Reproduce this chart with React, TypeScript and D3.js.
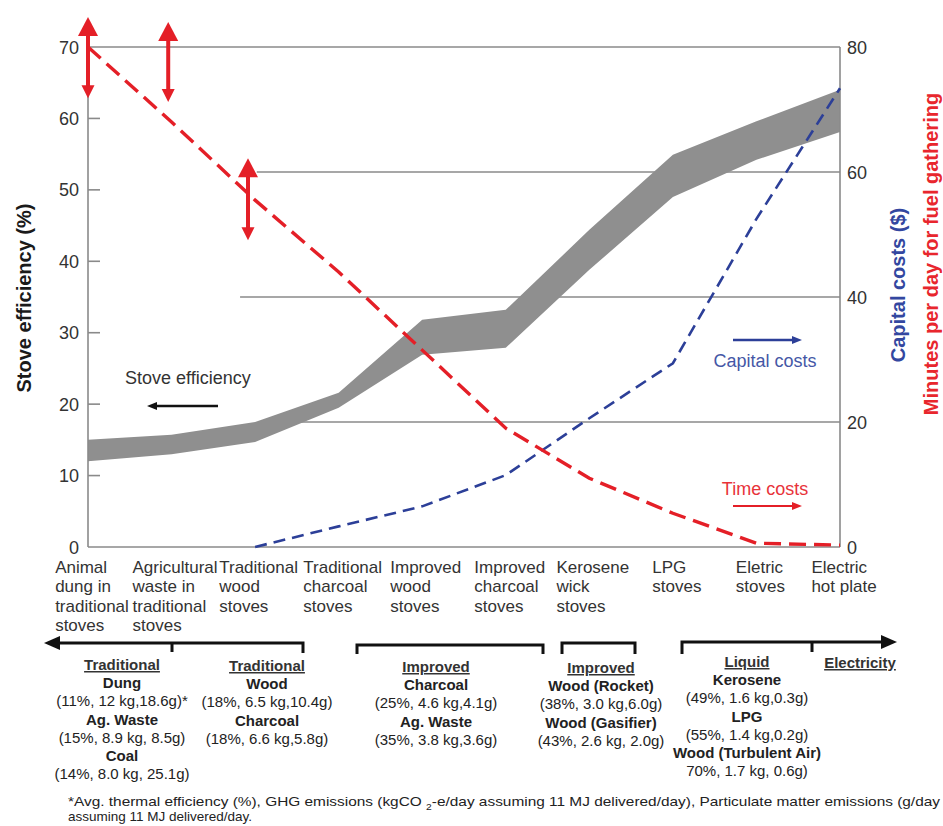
import React, { useEffect, useRef } from "react";
import * as d3 from "d3";

// ---------- data ----------
const categories = [
  "Animal dung in traditional stoves",
  "Agricultural waste in traditional stoves",
  "Traditional wood stoves",
  "Traditional charcoal stoves",
  "Improved wood stoves",
  "Improved charcoal stoves",
  "Kerosene wick stoves",
  "LPG stoves",
  "Eletric stoves",
  "Electric hot plate",
];
const categoryLines = [
  ["Animal", "dung in", "traditional", "stoves"],
  ["Agricultural", "waste in", "traditional", "stoves"],
  ["Traditional", "wood", "stoves"],
  ["Traditional", "charcoal", "stoves"],
  ["Improved", "wood", "stoves"],
  ["Improved", "charcoal", "stoves"],
  ["Kerosene", "wick", "stoves"],
  ["LPG", "stoves"],
  ["Eletric", "stoves"],
  ["Electric", "hot plate"],
];
// stove efficiency band (%), left axis
const efficiencyLow = [12, 13, 14.7, 19.5, 26.9, 27.9, 38.8, 49, 54.2, 58.1];
const efficiencyHigh = [15, 15.7, 17.5, 21.6, 31.8, 33.2, 44.4, 54.9, 59.6, 64];
// capital costs ($), right axis
const capitalCosts: (number | null)[] = [null, null, 0, 3.3, 6.5, 11.5, 20.6, 29.4, 52.5, 73.4];
// minutes per day for fuel gathering, right axis
const timeCosts = [80, 68, 55.5, 44, 31.5, 19, 11, 5.4, 0.6, 0.3];
const leftTicks = [0, 10, 20, 30, 40, 50, 60, 70];
const rightTicks = [0, 20, 40, 60, 80];
// red range arrows on time costs (category index, right-axis values)
const rangeArrowAt = [0, 0.96, 1.915];
const rangeArrowLow = [71.8, 71.2, 49.1];
const rangeArrowHigh = [84.8, 84, 62.2];
// partial right-axis gridlines (value, starting category index)
const gridValues = [20, 40, 60];
const gridStartAt = [2.51, 1.82, 2.02];

const groupHeaders = ["Traditional", "Traditional", "Improved", "Improved", "Liquid", "Electricity"];
const groupFuels = [
  ["Dung", "Ag. Waste", "Coal"],
  ["Wood", "Charcoal"],
  ["Charcoal", "Ag. Waste"],
  ["Wood (Rocket)", "Wood (Gasifier)"],
  ["Kerosene", "LPG", "Wood (Turbulent Air)"],
  [],
];
const groupStats = [
  ["(11%, 12 kg,18.6g)*", "(15%, 8.9 kg, 8.5g)", "(14%, 8.0 kg, 25.1g)"],
  ["(18%, 6.5 kg,10.4g)", "(18%, 6.6 kg,5.8g)"],
  ["(25%, 4.6 kg,4.1g)", "(35%, 3.8 kg,3.6g)"],
  ["(38%, 3.0 kg,6.0g)", "(43%, 2.6 kg, 2.0g)"],
  ["(49%, 1.6 kg,0.3g)", "(55%, 1.4 kg,0.2g)", "70%, 1.7 kg, 0.6g)"],
  [],
];

// ---------- layout ----------
const W = 943;
const H = 826;
const X0 = 88;
const X1 = 840;
const Y0 = 547;
const Y1 = 47;
const FONT = "'Liberation Sans', Arial, Helvetica, sans-serif";
const AXIS = "#8a8a8a";
const BAND = "#8f8f8f";
const RED = "#e41f27";
const BLUE = "#2c3f98";
const groupCenters = [122, 267, 436, 601, 747, 860];
const groupTops = [670, 671, 672, 673, 667, 668];

export default function App() {
  const ref = useRef<SVGSVGElement>(null);

  useEffect(() => {
    const svg = d3.select(ref.current);
    svg.selectAll("*").remove();

    const x = d3.scaleLinear().domain([0, categories.length - 1]).range([X0, X1]);
    const yL = d3.scaleLinear().domain([0, 70]).range([Y0, Y1]);
    const yR = d3.scaleLinear().domain([0, 80]).range([Y0, Y1]);

    svg.append("rect").attr("width", W).attr("height", H).attr("fill", "#fff");

    // partial gridlines
    gridValues.forEach((v, i) => {
      svg.append("line")
        .attr("x1", x(gridStartAt[i])).attr("x2", X1)
        .attr("y1", yR(v)).attr("y2", yR(v))
        .attr("stroke", AXIS).attr("stroke-width", 1.5);
    });

    // efficiency band
    const area = d3.area<number>()
      .x((_, i) => x(i))
      .y0((_, i) => yL(efficiencyLow[i]))
      .y1((d) => yL(d));
    svg.append("path").datum(efficiencyHigh).attr("d", area).attr("fill", BAND);

    // frame lines
    const frame = svg.append("g").attr("stroke", AXIS).attr("stroke-width", 1.6);
    frame.append("line").attr("x1", X0).attr("x2", X1).attr("y1", yL(70)).attr("y2", yL(70));
    frame.append("line").attr("x1", X0).attr("x2", X1).attr("y1", yL(0)).attr("y2", yL(0));
    frame.append("line").attr("x1", X0).attr("x2", X0).attr("y1", yL(0)).attr("y2", yL(70));
    frame.append("line").attr("x1", X1).attr("x2", X1).attr("y1", yR(0)).attr("y2", yR(80));

    // left ticks (inward) + labels
    leftTicks.forEach((t) => {
      if (t > 0 && t < 70) {
        svg.append("line").attr("x1", X0).attr("x2", X0 + 12)
          .attr("y1", yL(t)).attr("y2", yL(t))
          .attr("stroke", AXIS).attr("stroke-width", 1.6);
      }
      svg.append("text").attr("x", 79).attr("y", yL(t) + 6.5)
        .attr("text-anchor", "end").attr("font-family", FONT).attr("font-size", 18)
        .attr("fill", "#333").text(String(t));
    });
    rightTicks.forEach((t) => {
      svg.append("text").attr("x", 847).attr("y", yR(t) + 6.5)
        .attr("font-family", FONT).attr("font-size", 18)
        .attr("fill", "#333").text(String(t));
    });

    // capital costs line
    const capLine = d3.line<number | null>()
      .defined((d) => d !== null)
      .x((_, i) => x(i))
      .y((d) => yR(d as number));
    svg.append("path").datum(capitalCosts).attr("d", capLine)
      .attr("fill", "none").attr("stroke", BLUE).attr("stroke-width", 2.6)
      .attr("stroke-dasharray", "12,7");

    // time costs line
    const timeLine = d3.line<number>().x((_, i) => x(i)).y((d) => yR(d));
    svg.append("path").datum(timeCosts).attr("d", timeLine)
      .attr("fill", "none").attr("stroke", RED).attr("stroke-width", 3.4)
      .attr("stroke-dasharray", "17,8");

    // red range arrows
    rangeArrowAt.forEach((at, i) => {
      const cx = x(at);
      const yt = yR(rangeArrowHigh[i]);
      const yb = yR(rangeArrowLow[i]);
      svg.append("line").attr("x1", cx).attr("x2", cx).attr("y1", yt + 15).attr("y2", yb - 10)
        .attr("stroke", RED).attr("stroke-width", 4);
      svg.append("path")
        .attr("d", `M${cx},${yt} L${cx - 10},${yt + 19} L${cx + 10},${yt + 19} Z`)
        .attr("fill", RED);
      svg.append("path")
        .attr("d", `M${cx},${yb} L${cx - 6.5},${yb - 13} L${cx + 6.5},${yb - 13} Z`)
        .attr("fill", RED);
    });

    // in-plot annotations
    const arrowH = (x1: number, x2: number, y: number, color: string, w: number) => {
      const dir = x2 > x1 ? 1 : -1;
      svg.append("line").attr("x1", x1).attr("x2", x2 - dir * 8).attr("y1", y).attr("y2", y)
        .attr("stroke", color).attr("stroke-width", w);
      svg.append("path")
        .attr("d", `M${x2},${y} L${x2 - dir * 10},${y - 4} L${x2 - dir * 10},${y + 4} Z`)
        .attr("fill", color);
    };
    svg.append("text").attr("x", 125).attr("y", 384).attr("font-family", FONT)
      .attr("font-size", 18).attr("fill", "#333").text("Stove efficiency");
    arrowH(218, 147, 406, "#111", 2.5);
    arrowH(733, 802, 340, BLUE, 2.5);
    svg.append("text").attr("x", 765).attr("y", 367).attr("text-anchor", "middle")
      .attr("font-family", FONT).attr("font-size", 18).attr("fill", "#4557a6").text("Capital costs");
    svg.append("text").attr("x", 765).attr("y", 495).attr("text-anchor", "middle")
      .attr("font-family", FONT).attr("font-size", 18).attr("fill", "#e8333a").text("Time costs");
    arrowH(733, 802, 506, RED, 2);

    // axis titles
    svg.append("text").attr("transform", "translate(31,298) rotate(-90)")
      .attr("text-anchor", "middle").attr("font-family", FONT).attr("font-size", 20)
      .attr("font-weight", "bold").attr("fill", "#1a1a1a").text("Stove efficiency (%)");
    svg.append("text").attr("transform", "translate(905,285) rotate(-90)")
      .attr("text-anchor", "middle").attr("font-family", FONT).attr("font-size", 20)
      .attr("font-weight", "bold").attr("fill", "#3347a0").text("Capital costs ($)");
    svg.append("text").attr("transform", "translate(938,254) rotate(-90)")
      .attr("text-anchor", "middle").attr("font-family", FONT).attr("font-size", 20)
      .attr("font-weight", "bold").attr("fill", "#e8262d").text("Minutes per day for fuel gathering");

    // category labels (left-aligned blocks centred on category)
    categoryLines.forEach((lines, i) => {
      const t = svg.append("text").attr("font-family", FONT).attr("font-size", 17).attr("fill", "#333");
      lines.forEach((ln, j) => {
        t.append("tspan").attr("x", 0).attr("y", 573 + j * 19.4).text(ln);
      });
      const bb = (t.node() as SVGTextElement).getBBox();
      const left = x(i) + 4 - bb.width / 2;
      t.attr("transform", `translate(${left},0)`);
    });

    // brackets
    const br = svg.append("g").attr("fill", "none").attr("stroke", "#111").attr("stroke-width", 3);
    br.append("path").attr("d", "M303,653 V643 H56");
    br.append("path").attr("d", "M172,643 V652");
    br.append("path").attr("d", "M357,654 V645 H543 V654");
    br.append("path").attr("d", "M562,654 V643 H635 V654");
    br.append("path").attr("d", "M682,654 V642 H884");
    br.append("path").attr("d", "M812,642 V652");
    svg.append("path").attr("d", "M44,643 L60,636 L60,650 Z").attr("fill", "#111");
    svg.append("path").attr("d", "M897,642 L881,635 L881,649 Z").attr("fill", "#111");

    // fuel groups
    groupHeaders.forEach((h, gi) => {
      const cx = groupCenters[gi];
      let y = groupTops[gi];
      const step = 18.2;
      svg.append("text").attr("x", cx).attr("y", y).attr("text-anchor", "middle")
        .attr("font-family", FONT).attr("font-size", 15).attr("font-weight", "bold")
        .attr("fill", "#333").style("text-decoration", "underline").text(h);
      groupFuels[gi].forEach((f, k) => {
        y += step;
        svg.append("text").attr("x", cx).attr("y", y).attr("text-anchor", "middle")
          .attr("font-family", FONT).attr("font-size", 15).attr("font-weight", "bold")
          .attr("fill", "#222").text(f);
        y += step;
        svg.append("text").attr("x", cx).attr("y", y).attr("text-anchor", "middle")
          .attr("font-family", FONT).attr("font-size", 15)
          .attr("fill", "#222").text(groupStats[gi][k]);
      });
    });

    // footnote
    const fn = svg.append("text").attr("x", 68).attr("y", 806).attr("font-family", FONT)
      .attr("font-size", 13.5).attr("fill", "#222")
      .attr("textLength", 872).attr("lengthAdjust", "spacingAndGlyphs");
    fn.append("tspan").text("*Avg. thermal efficiency (%), GHG emissions (kgCO ");
    fn.append("tspan").attr("dy", 4).attr("font-size", 9).text("2");
    fn.append("tspan").attr("dy", -4).text("-e/day assuming 11 MJ delivered/day), Particulate matter emissions (g/day");
    svg.append("text").attr("x", 68).attr("y", 821).attr("font-family", FONT)
      .attr("font-size", 13.5).attr("fill", "#222").text("assuming 11 MJ delivered/day.");
  }, []);

  return (
    <svg
      ref={ref}
      width={W}
      height={H}
      style={{ position: "absolute", left: 0, top: 0, display: "block" }}
    />
  );
}
